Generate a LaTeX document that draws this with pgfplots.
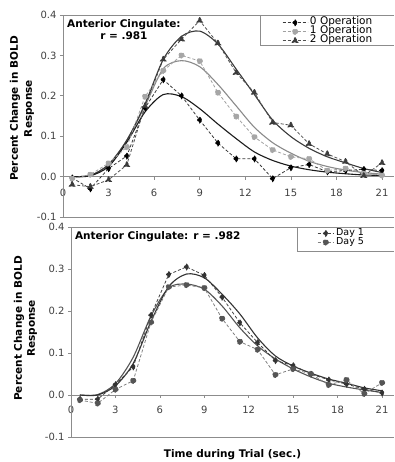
\documentclass[border=0pt]{standalone}
\usepackage{fontspec}
\setmainfont{DejaVu Sans}
\usepackage{pgfplots}
\pgfplotsset{compat=1.18}
\definecolor{axgray}{HTML}{8C8C8C}
\definecolor{tickgray}{HTML}{404040}
\definecolor{cA}{HTML}{000000}
\definecolor{cAd}{HTML}{3A3A3A}
\definecolor{cB}{HTML}{A6A6A6}
\definecolor{cBd}{HTML}{A0A0A0}
\definecolor{cC}{HTML}{3C3C3C}
\definecolor{cCd}{HTML}{505050}
\definecolor{fitA}{HTML}{1A1A1A}
\definecolor{fitB}{HTML}{8A8A8A}
\definecolor{fitC}{HTML}{3A3A3A}
\definecolor{dOne}{HTML}{333333}
\definecolor{dFive}{HTML}{555555}

\pgfplotstableread{
t op0 op1 op2
0.6 -0.003 -0.005 -0.020
1.8 -0.030 0.005 -0.025
3.0 0.020 0.033 -0.008
4.2 0.051 0.073 0.029
5.4 0.170 0.198 0.175
6.6 0.240 0.262 0.290
7.8 0.200 0.300 0.340
9.0 0.140 0.286 0.386
10.2 0.083 0.208 0.330
11.4 0.044 0.149 0.257
12.6 0.044 0.098 0.208
13.8 -0.005 0.066 0.134
15.0 0.022 0.049 0.127
16.2 0.030 0.044 0.081
17.4 0.012 0.015 0.056
18.6 0.015 0.020 0.037
19.8 0.018 0.008 0.002
21.0 0.015 0.003 0.034
}\topdata

\pgfplotstableread{
t f0 f1 f2
0.6 0.000 0.000 0.000
1.8 0.002 0.003 0.003
3.0 0.025 0.030 0.030
4.2 0.085 0.090 0.090
5.4 0.160 0.175 0.180
6.6 0.203 0.267 0.290
7.8 0.198 0.287 0.347
9.0 0.168 0.272 0.360
10.2 0.130 0.228 0.328
11.4 0.094 0.175 0.266
12.6 0.061 0.122 0.203
13.8 0.040 0.084 0.140
15.0 0.026 0.058 0.099
16.2 0.017 0.038 0.070
17.4 0.011 0.025 0.049
18.6 0.007 0.016 0.034
19.8 0.004 0.010 0.020
21.0 0.003 0.006 0.010
}\topfit

\pgfplotstableread{
t d1 d5
0.6 -0.010 -0.012
1.8 -0.010 -0.020
3.0 0.025 0.013
4.2 0.067 0.034
5.4 0.190 0.173
6.6 0.287 0.257
7.8 0.305 0.262
9.0 0.285 0.255
10.2 0.233 0.182
11.4 0.172 0.127
12.6 0.125 0.108
13.8 0.082 0.048
15.0 0.070 0.062
16.2 0.050 0.050
17.4 0.036 0.024
18.6 0.026 0.036
19.8 0.014 0.003
21.0 0.005 0.029
}\botdata

\pgfplotstableread{
t g1 g5
0.6 0.000 0.000
1.8 0.000 0.001
3.0 0.022 0.027
4.2 0.075 0.090
5.4 0.175 0.188
6.6 0.258 0.255
7.8 0.288 0.264
9.0 0.279 0.252
10.2 0.240 0.212
11.4 0.193 0.160
12.6 0.136 0.117
13.8 0.093 0.086
15.0 0.069 0.062
16.2 0.052 0.043
17.4 0.038 0.028
18.6 0.028 0.019
19.8 0.017 0.012
21.0 0.010 0.006
}\botfit

\begin{document}
\begin{tikzpicture}
\path[use as bounding box] (0pt,0pt) rectangle (394pt,462pt);
\pgfplotsset{
 common/.style={
  scale only axis, anchor=south west,
  xmin=0, ymin=-0.1, ymax=0.4,
  xtick={0,3,...,21}, ytick={-0.1,0,0.1,0.2,0.3,0.4},
  axis line style={draw=none},
  tick style={axgray, line width=0.6pt},
  xtick style={draw=none},
  ytick pos=left, ytick align=outside, major tick length=3pt,
  /pgf/number format/assume math mode=true,
  yticklabel style={/pgf/number format/.cd, fixed, fixed zerofill, precision=1, /tikz/.cd, font=\fontsize{10}{12}\selectfont, text=tickgray},
  xticklabel style={font=\fontsize{10}{12}\selectfont, text=tickgray, anchor=center},
  clip=false,
  legend cell align=left,
 },
 fit/.style={smooth, line width=1.1pt, no markers, forget plot},
 dat/.style={line width=0.8pt, dash pattern=on 3pt off 2pt, mark options={solid}},
}

% ---------------- top panel ----------------
\begin{axis}[common,
  at={(63pt,245pt)}, width=331pt, height=202pt, xmax=21.79,
  xticklabel style={yshift=24pt},
  ylabel={Percent Change in BOLD\\Response},
  every axis y label/.style={at={(rel axis cs:-0.124,0.537)}, rotate=90, anchor=center, align=center, font=\bfseries\fontsize{10.5}{14}\selectfont},
  legend style={at={(rel axis cs:0.6616,0.985)}, anchor=north west, draw=none, fill=none, inner sep=0pt, row sep=0pt, column sep=2pt, font=\fontsize{10.5}{10}\selectfont, nodes={inner sep=0pt, text height=6.5pt, text depth=2.5pt}},
  legend image code/.code={\draw[mark repeat=2,mark phase=2,#1] plot coordinates {(0pt,0pt) (12.5pt,0pt) (25pt,0pt)};},
]
\draw[axgray, line width=0.8pt] (axis cs:0,0) -- (axis cs:21.79,0);
\pgfplotsinvokeforeach{3,6,9,12,15,18,21}{\draw[axgray, line width=0.6pt] (axis cs:#1,0) -- ++(0pt,-3pt);}
\addplot[fit, fitB] table[x=t, y=f1] {\topfit};
\addplot[fit, fitC] table[x=t, y=f2] {\topfit};
\addplot[fit, fitA] table[x=t, y=f0] {\topfit};
\addplot[dat, cAd, mark=diamond*, mark size=3pt, mark options={fill=cA, draw=cA}] table[x=t, y=op0] {\topdata};
\addplot[dat, cBd, mark=*, mark size=2.7pt, mark options={fill=cB, draw=cB}] table[x=t, y=op1] {\topdata};
\addplot[dat, cCd, mark=triangle*, mark size=3.3pt, mark options={fill=cC, draw=cC}] table[x=t, y=op2] {\topdata};
\legend{0 Operation, 1 Operation, 2 Operation}
\draw[axgray, line width=0.8pt] (rel axis cs:1,1) -- (rel axis cs:0,1) -- (rel axis cs:0,0) -- (rel axis cs:1,0);
\draw[axgray, line width=0.8pt] (rel axis cs:0.595,1) -- (rel axis cs:0.595,0.851) -- (rel axis cs:1,0.851);
\node[align=center, font=\bfseries\fontsize{10.5}{12}\selectfont, inner sep=0pt] at (rel axis cs:0.184,0.926) {Anterior Cingulate:\\r = .981};
\end{axis}

% ---------------- bottom panel ----------------
\begin{axis}[common,
  at={(71pt,25pt)}, width=323pt, height=210pt, xmax=21.81,
  xticklabel style={yshift=27pt},
  ylabel={Percent Change in BOLD\\Response},
  every axis y label/.style={at={(rel axis cs:-0.141,0.517)}, rotate=90, anchor=center, align=center, font=\bfseries\fontsize{10.5}{13}\selectfont},
  xlabel={Time during Trial (sec.)},
  every axis x label/.style={at={(rel axis cs:0.5,0)}, anchor=center, yshift=-18pt, font=\bfseries\fontsize{10.5}{12}\selectfont},
  legend style={at={(rel axis cs:0.762,0.992)}, anchor=north west, draw=none, fill=none, inner sep=0pt, row sep=0pt, column sep=2pt, font=\fontsize{9.5}{10}\selectfont, nodes={inner sep=0pt, text height=6.5pt, text depth=2.5pt}},
  legend image code/.code={\draw[mark repeat=2,mark phase=2,#1] plot coordinates {(0pt,0pt) (8pt,0pt) (16pt,0pt)};},
]
\draw[axgray, line width=0.8pt] (axis cs:0,0) -- (axis cs:21.81,0);
\pgfplotsinvokeforeach{3,6,9,12,15,18,21}{\draw[axgray, line width=0.6pt] (axis cs:#1,0) -- ++(0pt,-3pt);}
\addplot[fit, dFive] table[x=t, y=g5] {\botfit};
\addplot[fit, dOne] table[x=t, y=g1] {\botfit};
\addplot[dat, dOne!80!gray, mark=diamond*, mark size=3pt, mark options={fill=dOne, draw=dOne}] table[x=t, y=d1] {\botdata};
\addplot[dat, gray, mark=*, mark size=2.7pt, mark options={fill=dFive, draw=dFive}] table[x=t, y=d5] {\botdata};
\legend{Day 1, Day 5}
\draw[axgray, line width=0.8pt] (rel axis cs:1,1) -- (rel axis cs:0,1) -- (rel axis cs:0,0) -- (rel axis cs:1,0);
\draw[axgray, line width=0.8pt] (rel axis cs:0.70,1) -- (rel axis cs:0.70,0.886) -- (rel axis cs:1,0.886);
\node[anchor=west, font=\bfseries\fontsize{10.5}{12}\selectfont, inner sep=0pt] at (rel axis cs:0.012,0.952) {Anterior Cingulate: r = .982};
\end{axis}
\end{tikzpicture}
\end{document}
